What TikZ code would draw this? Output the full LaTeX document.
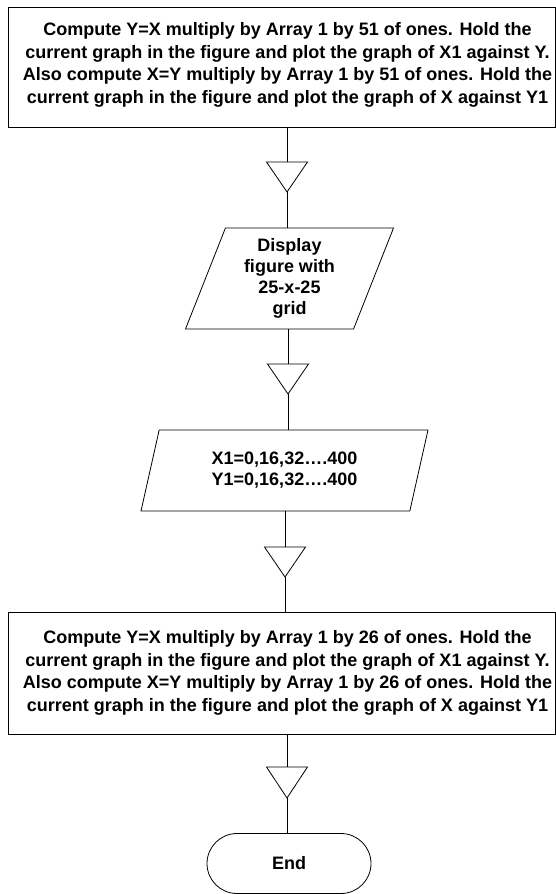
\documentclass[tikz,border=0pt]{standalone}
\usepackage{fontspec}
\setmainfont{Liberation Sans}
\usetikzlibrary{shapes.geometric,shapes.misc}
\begin{document}
\begin{tikzpicture}[x=1bp,y=-1bp,
  every node/.style={font=\bfseries\fontsize{18bp}{21bp}\selectfont},
  procbox/.style={draw, line width=0.8bp, rectangle, minimum width=547bp, inner sep=0pt},
  boxtext/.style={align=center, inner sep=0pt, font=\bfseries\fontsize{18bp}{22.5bp}\selectfont},
  iobox/.style={draw, line width=0.8bp, trapezium, trapezium left angle=63.43, trapezium right angle=116.57, trapezium stretches body, inner sep=0pt, align=center},
  termbox/.style={draw, line width=0.8bp, rounded rectangle, minimum width=164bp, minimum height=60bp, inner sep=0pt},
  conn/.style={draw, line width=0.8bp},
  tri/.style={draw, line width=0.8bp, line join=miter}
]
\useasboundingbox (0,0) rectangle (556,894);

% top process box
\node[procbox, minimum height=120bp,
  label={[boxtext, xshift=6bp, yshift=2bp]center:{Compute Y=X multiply by Array 1 by 51 of ones. Hold the\\current graph in the figure and plot the graph of X1 against Y.\\Also compute X=Y multiply by Array 1 by 51 of ones. Hold the\\current graph in the figure and plot the graph of X against Y1}}]
  (top) at (281.5,67) {};

% parallelogram 1
\node[iobox, minimum width=208bp, minimum height=101bp] (p1) at (289.5,278.5) {Display\\figure with\\25-x-25\\grid};

% parallelogram 2
\node[iobox, minimum width=287bp, minimum height=81bp] (p2) at (284.5,470.5) {X1=0,16,32….400\\Y1=0,16,32….400};

% bottom process box
\node[procbox, minimum height=122bp,
  label={[boxtext, xshift=6bp]center:{Compute Y=X multiply by Array 1 by 26 of ones. Hold the\\current graph in the figure and plot the graph of X1 against Y.\\Also compute X=Y multiply by Array 1 by 26 of ones. Hold the\\current graph in the figure and plot the graph of X against Y1}}]
  (bot) at (281.5,673) {};

% terminal
\node[termbox] (end) at (289,863.5) {End};

% triangles (flow markers)
\coordinate (t1top) at (287,162); \coordinate (t1tip) at (287,192);
\coordinate (t2top) at (288,364); \coordinate (t2tip) at (288,394);
\coordinate (t3top) at (285,547); \coordinate (t3tip) at (285,577);
\coordinate (t4top) at (287,767); \coordinate (t4tip) at (287,798);
\foreach \t in {t1,t2,t3,t4}{
  \draw[tri] ([xshift=-20.5bp]\t top) -- ([xshift=20.5bp]\t top) -- (\t tip) -- cycle;
}

% connectors
\draw[conn] (t1top |- top.south) -- (t1top);
\draw[conn] (t1tip) -- (t1tip |- p1.north);
\draw[conn] (t2top |- p1.south) -- (t2top);
\draw[conn] (t2tip) -- (t2tip |- p2.north);
\draw[conn] (t3top |- p2.south) -- (t3top);
\draw[conn] (t3tip) -- (t3tip |- bot.north);
\draw[conn] (t4top |- bot.south) -- (t4top);
\draw[conn] (t4tip) -- (t4tip |- end.north);
\end{tikzpicture}
\end{document}
